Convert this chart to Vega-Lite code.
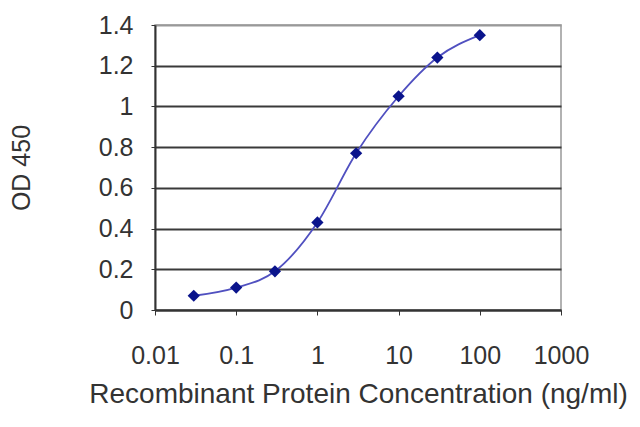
{
  "$schema": "https://vega.github.io/schema/vega-lite/v6.json",
  "width": 406,
  "height": 285,
  "autosize": "none",
  "padding": {"left": 155, "top": 25, "right": 79, "bottom": 117},
  "background": "white",
  "config": {
    "view": {"stroke": "#999999", "strokeWidth": 1.5},
    "font": "Liberation Sans"
  },
  "data": {
    "values": [
      {"conc": 0.03, "od": 0.07},
      {"conc": 0.1, "od": 0.11},
      {"conc": 0.3, "od": 0.19},
      {"conc": 1, "od": 0.43},
      {"conc": 3, "od": 0.77},
      {"conc": 10, "od": 1.05},
      {"conc": 30, "od": 1.24},
      {"conc": 100, "od": 1.35}
    ]
  },
  "encoding": {
    "x": {
      "field": "conc",
      "type": "quantitative",
      "scale": {"type": "log", "domain": [0.01, 1000], "nice": false},
      "axis": {
        "values": [0.01, 0.1, 1, 10, 100, 1000],
        "format": "~g",
        "grid": false,
        "domainColor": "#333333",
        "domainWidth": 2,
        "tickColor": "#333333",
        "tickSize": 5,
        "labelFontSize": 25,
        "labelColor": "#333333",
        "labelPadding": 28,
        "labelFlush": false,
        "title": "Recombinant Protein Concentration (ng/ml)",
        "titleFontSize": 28,
        "titleFontWeight": "normal",
        "titleColor": "#333333",
        "titlePadding": 12
      }
    },
    "y": {
      "field": "od",
      "type": "quantitative",
      "scale": {"domain": [0, 1.4], "nice": false},
      "axis": {
        "values": [0, 0.2, 0.4, 0.6, 0.8, 1, 1.2, 1.4],
        "format": "~g",
        "gridColor": {"condition": {"test": "datum.value >= 1.39", "value": "#999999"}, "value": "#3a3a3a"},
        "gridWidth": 2,
        "domainColor": "#333333",
        "domainWidth": 2,
        "tickColor": "#333333",
        "tickSize": 4,
        "labelFontSize": 25,
        "labelColor": "#333333",
        "labelPadding": 18,
        "title": "OD 450",
        "titleFontSize": 25,
        "titleFontWeight": "normal",
        "titleColor": "#333333",
        "titlePadding": 64
      }
    }
  },
  "layer": [
    {
      "mark": {"type": "line", "interpolate": "monotone", "color": "#5050c0", "strokeWidth": 1.8}
    },
    {
      "mark": {"type": "point", "shape": "diamond", "filled": true, "color": "#0a148c", "size": 150, "opacity": 1}
    }
  ]
}
